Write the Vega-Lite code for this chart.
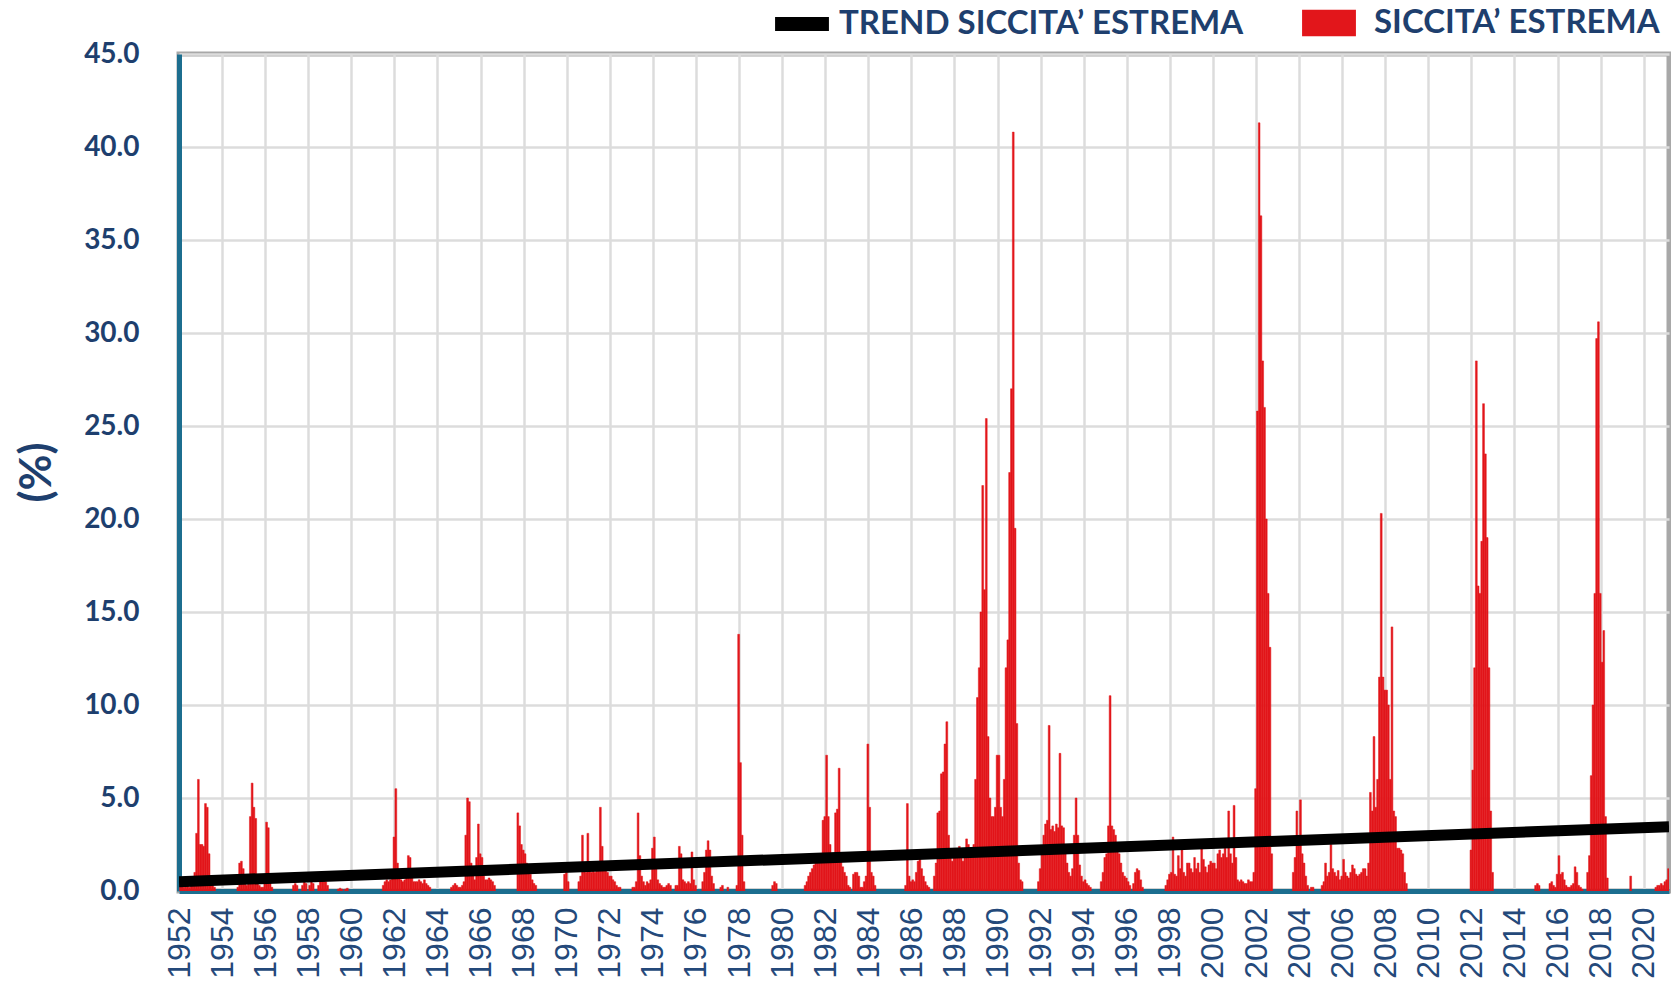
{
"$schema": "https://vega.github.io/schema/vega-lite/v6.json",
"width": 1490, "height": 837,
"autosize": {"type": "none"},
"padding": {"left": 179, "top": 54, "right": 2, "bottom": 90},
"background": "white",
"config": {"view": {"stroke": "#A8A8A8", "strokeWidth": 5}},
"resolve": {"scale": {"color": "independent"}, "legend": {"color": "independent"}},
"datasets": {
"trend": [{"d":"1952-01-01","v":0.5},{"d":"2021-03-05","v":3.46}],
"drought": [
{"d":"1952-01","v":0.3},{"d":"1952-02","v":0.3},{"d":"1952-03","v":0.2},{"d":"1952-04","v":0.3},{"d":"1952-05","v":0.3},{"d":"1952-06","v":0.2},{"d":"1952-07","v":0.3},{"d":"1952-08","v":0.6},{"d":"1952-09","v":1.0},{"d":"1952-10","v":3.1},{"d":"1952-11","v":6.0},{"d":"1952-12","v":2.5},
{"d":"1953-01","v":2.5},{"d":"1953-02","v":2.4},{"d":"1953-03","v":4.7},{"d":"1953-04","v":4.5},{"d":"1953-05","v":2.0},{"d":"1953-06","v":0.5},{"d":"1953-07","v":0.3},{"d":"1953-08","v":0.2},
{"d":"1954-09","v":0.2},{"d":"1954-10","v":1.5},{"d":"1954-11","v":1.6},{"d":"1954-12","v":1.2},
{"d":"1955-01","v":0.6},{"d":"1955-02","v":0.3},{"d":"1955-03","v":0.4},{"d":"1955-04","v":4.0},{"d":"1955-05","v":5.8},{"d":"1955-06","v":4.5},{"d":"1955-07","v":3.9},{"d":"1955-08","v":0.8},{"d":"1955-09","v":0.3},{"d":"1955-10","v":0.2},{"d":"1955-11","v":0.2},{"d":"1955-12","v":0.6},
{"d":"1956-01","v":3.7},{"d":"1956-02","v":3.4},{"d":"1956-03","v":0.5},{"d":"1956-04","v":0.2},
{"d":"1957-04","v":0.3},{"d":"1957-05","v":0.4},{"d":"1957-06","v":0.3},{"d":"1957-09","v":0.3},{"d":"1957-10","v":0.5},{"d":"1957-11","v":0.4},
{"d":"1958-01","v":0.3},{"d":"1958-02","v":0.5},{"d":"1958-03","v":0.4},{"d":"1958-06","v":0.3},{"d":"1958-07","v":0.5},{"d":"1958-08","v":0.6},{"d":"1958-09","v":0.7},{"d":"1958-10","v":0.5},{"d":"1958-11","v":0.3},
{"d":"1959-05","v":0.1},{"d":"1959-06","v":0.15},{"d":"1959-07","v":0.1},{"d":"1959-09","v":0.1},{"d":"1959-10","v":0.15},
{"d":"1961-06","v":0.3},{"d":"1961-07","v":0.5},{"d":"1961-08","v":0.6},{"d":"1961-09","v":0.5},{"d":"1961-10","v":0.6},{"d":"1961-11","v":0.8},{"d":"1961-12","v":2.9},
{"d":"1962-01","v":5.5},{"d":"1962-02","v":1.5},{"d":"1962-03","v":0.8},{"d":"1962-04","v":0.6},{"d":"1962-05","v":0.5},{"d":"1962-06","v":0.6},{"d":"1962-07","v":1.2},{"d":"1962-08","v":1.9},{"d":"1962-09","v":1.8},{"d":"1962-10","v":0.8},{"d":"1962-11","v":0.5},{"d":"1962-12","v":0.5},
{"d":"1963-01","v":0.5},{"d":"1963-02","v":0.6},{"d":"1963-03","v":0.5},{"d":"1963-04","v":0.4},{"d":"1963-05","v":0.6},{"d":"1963-06","v":0.4},{"d":"1963-07","v":0.3},{"d":"1963-08","v":0.2},
{"d":"1964-08","v":0.2},{"d":"1964-09","v":0.3},{"d":"1964-10","v":0.4},{"d":"1964-11","v":0.3},{"d":"1964-12","v":0.2},
{"d":"1965-01","v":0.2},{"d":"1965-02","v":0.3},{"d":"1965-03","v":0.5},{"d":"1965-04","v":3.0},{"d":"1965-05","v":5.0},{"d":"1965-06","v":4.8},{"d":"1965-07","v":1.5},{"d":"1965-08","v":0.8},{"d":"1965-09","v":0.6},{"d":"1965-10","v":1.8},{"d":"1965-11","v":3.6},{"d":"1965-12","v":2.0},
{"d":"1966-01","v":1.8},{"d":"1966-02","v":0.8},{"d":"1966-03","v":0.6},{"d":"1966-04","v":0.6},{"d":"1966-05","v":0.7},{"d":"1966-06","v":0.6},{"d":"1966-07","v":0.5},{"d":"1966-08","v":0.3},
{"d":"1967-09","v":4.2},{"d":"1967-10","v":3.5},{"d":"1967-11","v":2.5},{"d":"1967-12","v":2.2},
{"d":"1968-01","v":2.0},{"d":"1968-02","v":1.5},{"d":"1968-03","v":1.2},{"d":"1968-04","v":0.9},{"d":"1968-05","v":0.6},{"d":"1968-06","v":0.4},{"d":"1968-07","v":0.3},
{"d":"1969-11","v":0.9},{"d":"1969-12","v":1.0},
{"d":"1970-01","v":0.5},{"d":"1970-07","v":0.5},{"d":"1970-08","v":0.8},{"d":"1970-09","v":3.0},{"d":"1970-10","v":1.2},{"d":"1970-11","v":1.0},{"d":"1970-12","v":3.1},
{"d":"1971-01","v":1.2},{"d":"1971-02","v":1.0},{"d":"1971-03","v":1.1},{"d":"1971-04","v":1.0},{"d":"1971-05","v":1.3},{"d":"1971-06","v":1.5},{"d":"1971-07","v":4.5},{"d":"1971-08","v":2.4},{"d":"1971-09","v":1.5},{"d":"1971-10","v":1.2},{"d":"1971-11","v":1.0},{"d":"1971-12","v":0.8},
{"d":"1972-01","v":0.8},{"d":"1972-02","v":0.6},{"d":"1972-03","v":0.5},{"d":"1972-04","v":0.3},{"d":"1972-05","v":0.2},{"d":"1972-06","v":0.2},
{"d":"1973-01","v":0.2},{"d":"1973-02","v":0.2},{"d":"1973-03","v":0.5},{"d":"1973-04","v":4.2},{"d":"1973-05","v":1.9},{"d":"1973-06","v":0.8},{"d":"1973-07","v":0.5},{"d":"1973-08","v":0.3},{"d":"1973-09","v":0.5},{"d":"1973-10","v":0.4},{"d":"1973-11","v":0.6},{"d":"1973-12","v":2.3},
{"d":"1974-01","v":2.9},{"d":"1974-02","v":1.5},{"d":"1974-03","v":0.6},{"d":"1974-04","v":0.4},{"d":"1974-05","v":0.3},{"d":"1974-06","v":0.2},{"d":"1974-07","v":0.2},{"d":"1974-08","v":0.3},{"d":"1974-09","v":0.4},{"d":"1974-10","v":0.3},
{"d":"1975-01","v":0.3},{"d":"1975-02","v":0.3},{"d":"1975-03","v":2.4},{"d":"1975-04","v":2.0},{"d":"1975-05","v":0.6},{"d":"1975-06","v":0.5},{"d":"1975-07","v":0.4},{"d":"1975-08","v":0.5},{"d":"1975-09","v":0.4},{"d":"1975-10","v":2.1},{"d":"1975-11","v":0.6},{"d":"1975-12","v":0.3},
{"d":"1976-04","v":0.5},{"d":"1976-05","v":1.0},{"d":"1976-06","v":2.2},{"d":"1976-07","v":2.7},{"d":"1976-08","v":2.2},{"d":"1976-09","v":0.8},{"d":"1976-10","v":0.4},
{"d":"1977-02","v":0.2},{"d":"1977-03","v":0.3},{"d":"1977-06","v":0.2},{"d":"1977-11","v":0.3},{"d":"1977-12","v":13.8},
{"d":"1978-01","v":6.9},{"d":"1978-02","v":3.0},{"d":"1978-03","v":0.5},
{"d":"1979-07","v":0.3},{"d":"1979-08","v":0.5},{"d":"1979-09","v":0.4},
{"d":"1981-01","v":0.3},{"d":"1981-02","v":0.5},{"d":"1981-03","v":0.8},{"d":"1981-04","v":1.0},{"d":"1981-05","v":1.2},{"d":"1981-06","v":1.4},{"d":"1981-07","v":1.5},{"d":"1981-08","v":1.8},{"d":"1981-09","v":1.6},{"d":"1981-10","v":2.0},{"d":"1981-11","v":3.8},{"d":"1981-12","v":4.0},
{"d":"1982-01","v":7.3},{"d":"1982-02","v":4.0},{"d":"1982-03","v":2.5},{"d":"1982-04","v":2.0},{"d":"1982-05","v":1.8},{"d":"1982-06","v":4.2},{"d":"1982-07","v":4.4},{"d":"1982-08","v":6.6},{"d":"1982-09","v":2.0},{"d":"1982-10","v":1.3},{"d":"1982-11","v":1.0},{"d":"1982-12","v":0.8},
{"d":"1983-01","v":0.3},{"d":"1983-02","v":0.2},{"d":"1983-04","v":0.9},{"d":"1983-05","v":1.0},{"d":"1983-06","v":1.0},{"d":"1983-07","v":0.8},{"d":"1983-08","v":0.2},{"d":"1983-09","v":0.2},{"d":"1983-10","v":0.5},{"d":"1983-11","v":0.8},{"d":"1983-12","v":7.9},
{"d":"1984-01","v":4.5},{"d":"1984-02","v":1.0},{"d":"1984-03","v":0.8},{"d":"1984-04","v":0.3},
{"d":"1985-09","v":0.3},{"d":"1985-10","v":4.7},{"d":"1985-11","v":0.8},{"d":"1985-12","v":0.5},
{"d":"1986-01","v":0.6},{"d":"1986-02","v":0.5},{"d":"1986-03","v":1.0},{"d":"1986-04","v":1.6},{"d":"1986-05","v":1.8},{"d":"1986-06","v":1.2},{"d":"1986-07","v":0.8},{"d":"1986-08","v":0.5},{"d":"1986-09","v":0.3},{"d":"1986-10","v":0.2},
{"d":"1987-01","v":0.8},{"d":"1987-02","v":1.5},{"d":"1987-03","v":4.2},{"d":"1987-04","v":4.3},{"d":"1987-05","v":6.3},{"d":"1987-06","v":6.4},{"d":"1987-07","v":7.9},{"d":"1987-08","v":9.1},{"d":"1987-09","v":3.0},{"d":"1987-10","v":2.0},{"d":"1987-11","v":1.6},{"d":"1987-12","v":1.8},
{"d":"1988-01","v":1.8},{"d":"1988-02","v":2.0},{"d":"1988-03","v":2.4},{"d":"1988-04","v":2.0},{"d":"1988-05","v":1.6},{"d":"1988-06","v":2.2},{"d":"1988-07","v":2.8},{"d":"1988-08","v":2.5},{"d":"1988-09","v":2.0},{"d":"1988-10","v":1.8},{"d":"1988-11","v":2.5},{"d":"1988-12","v":6.0},
{"d":"1989-01","v":10.4},{"d":"1989-02","v":12.0},{"d":"1989-03","v":15.0},{"d":"1989-04","v":21.8},{"d":"1989-05","v":16.2},{"d":"1989-06","v":25.4},{"d":"1989-07","v":8.3},{"d":"1989-08","v":5.0},{"d":"1989-09","v":4.0},{"d":"1989-10","v":4.0},{"d":"1989-11","v":4.5},{"d":"1989-12","v":7.3},
{"d":"1990-01","v":7.3},{"d":"1990-02","v":4.5},{"d":"1990-03","v":4.0},{"d":"1990-04","v":6.0},{"d":"1990-05","v":12.0},{"d":"1990-06","v":13.5},{"d":"1990-07","v":22.5},{"d":"1990-08","v":27.0},{"d":"1990-09","v":40.8},{"d":"1990-10","v":19.5},{"d":"1990-11","v":9.0},{"d":"1990-12","v":1.5},
{"d":"1991-01","v":0.6},{"d":"1991-02","v":0.5},{"d":"1991-11","v":0.5},{"d":"1991-12","v":1.2},
{"d":"1992-01","v":2.0},{"d":"1992-02","v":3.0},{"d":"1992-03","v":3.6},{"d":"1992-04","v":3.8},{"d":"1992-05","v":8.9},{"d":"1992-06","v":3.3},{"d":"1992-07","v":3.5},{"d":"1992-08","v":3.2},{"d":"1992-09","v":3.6},{"d":"1992-10","v":3.4},{"d":"1992-11","v":7.4},{"d":"1992-12","v":3.5},
{"d":"1993-01","v":3.4},{"d":"1993-02","v":2.5},{"d":"1993-03","v":1.5},{"d":"1993-04","v":1.0},{"d":"1993-05","v":0.8},{"d":"1993-06","v":1.2},{"d":"1993-07","v":3.0},{"d":"1993-08","v":5.0},{"d":"1993-09","v":3.0},{"d":"1993-10","v":1.4},{"d":"1993-11","v":0.8},{"d":"1993-12","v":0.5},
{"d":"1994-01","v":0.6},{"d":"1994-02","v":0.4},{"d":"1994-03","v":0.3},{"d":"1994-04","v":0.2},{"d":"1994-10","v":0.5},{"d":"1994-11","v":1.0},{"d":"1994-12","v":1.8},
{"d":"1995-01","v":2.0},{"d":"1995-02","v":3.5},{"d":"1995-03","v":10.5},{"d":"1995-04","v":3.5},{"d":"1995-05","v":3.3},{"d":"1995-06","v":3.0},{"d":"1995-07","v":2.5},{"d":"1995-08","v":2.0},{"d":"1995-09","v":1.5},{"d":"1995-10","v":1.0},{"d":"1995-11","v":0.8},{"d":"1995-12","v":0.7},
{"d":"1996-01","v":0.5},{"d":"1996-02","v":0.3},{"d":"1996-04","v":0.4},{"d":"1996-05","v":1.0},{"d":"1996-06","v":1.2},{"d":"1996-07","v":1.1},{"d":"1996-08","v":0.6},{"d":"1996-09","v":0.2},
{"d":"1997-10","v":0.3},{"d":"1997-11","v":0.6},{"d":"1997-12","v":0.9},
{"d":"1998-01","v":1.0},{"d":"1998-02","v":2.9},{"d":"1998-03","v":0.9},{"d":"1998-04","v":0.8},{"d":"1998-05","v":1.9},{"d":"1998-06","v":1.2},{"d":"1998-07","v":2.2},{"d":"1998-08","v":1.0},{"d":"1998-09","v":0.8},{"d":"1998-10","v":1.5},{"d":"1998-11","v":1.5},{"d":"1998-12","v":1.2},
{"d":"1999-01","v":1.0},{"d":"1999-02","v":1.8},{"d":"1999-03","v":1.2},{"d":"1999-04","v":1.5},{"d":"1999-05","v":1.0},{"d":"1999-06","v":2.4},{"d":"1999-07","v":1.7},{"d":"1999-08","v":1.3},{"d":"1999-09","v":1.0},{"d":"1999-10","v":1.4},{"d":"1999-11","v":1.6},{"d":"1999-12","v":1.5},
{"d":"2000-01","v":1.5},{"d":"2000-02","v":1.2},{"d":"2000-03","v":2.0},{"d":"2000-04","v":2.2},{"d":"2000-05","v":1.8},{"d":"2000-06","v":2.0},{"d":"2000-07","v":2.3},{"d":"2000-08","v":1.8},{"d":"2000-09","v":4.3},{"d":"2000-10","v":2.0},{"d":"2000-11","v":1.5},{"d":"2000-12","v":4.6},
{"d":"2001-01","v":1.8},{"d":"2001-02","v":0.6},{"d":"2001-03","v":0.5},{"d":"2001-04","v":0.6},{"d":"2001-05","v":0.5},{"d":"2001-06","v":0.4},{"d":"2001-07","v":0.4},{"d":"2001-08","v":0.6},{"d":"2001-09","v":0.5},{"d":"2001-10","v":0.5},{"d":"2001-11","v":1.0},{"d":"2001-12","v":5.5},
{"d":"2002-01","v":25.8},{"d":"2002-02","v":41.3},{"d":"2002-03","v":36.3},{"d":"2002-04","v":28.5},{"d":"2002-05","v":26.0},{"d":"2002-06","v":20.0},{"d":"2002-07","v":16.0},{"d":"2002-08","v":13.1},{"d":"2002-09","v":2.0},
{"d":"2003-09","v":1.0},{"d":"2003-10","v":1.8},{"d":"2003-11","v":4.3},{"d":"2003-12","v":2.5},
{"d":"2004-01","v":4.9},{"d":"2004-02","v":2.0},{"d":"2004-03","v":1.5},{"d":"2004-04","v":0.8},{"d":"2004-05","v":0.3},{"d":"2004-07","v":0.2},{"d":"2004-08","v":0.2},
{"d":"2005-01","v":0.3},{"d":"2005-02","v":0.5},{"d":"2005-03","v":1.5},{"d":"2005-04","v":0.8},{"d":"2005-05","v":1.0},{"d":"2005-06","v":2.5},{"d":"2005-07","v":1.2},{"d":"2005-08","v":1.0},{"d":"2005-09","v":0.8},{"d":"2005-10","v":1.1},{"d":"2005-11","v":0.6},{"d":"2005-12","v":0.8},
{"d":"2006-01","v":1.7},{"d":"2006-02","v":1.0},{"d":"2006-03","v":0.8},{"d":"2006-04","v":0.7},{"d":"2006-05","v":1.0},{"d":"2006-06","v":1.4},{"d":"2006-07","v":1.2},{"d":"2006-08","v":0.9},{"d":"2006-09","v":0.8},{"d":"2006-10","v":0.9},{"d":"2006-11","v":1.0},{"d":"2006-12","v":1.2},
{"d":"2007-01","v":1.2},{"d":"2007-02","v":0.8},{"d":"2007-03","v":1.5},{"d":"2007-04","v":5.3},{"d":"2007-05","v":4.3},{"d":"2007-06","v":8.3},{"d":"2007-07","v":4.5},{"d":"2007-08","v":6.0},{"d":"2007-09","v":11.5},{"d":"2007-10","v":20.3},{"d":"2007-11","v":11.5},{"d":"2007-12","v":10.8},
{"d":"2008-01","v":10.8},{"d":"2008-02","v":10.0},{"d":"2008-03","v":6.0},{"d":"2008-04","v":14.2},{"d":"2008-05","v":4.3},{"d":"2008-06","v":4.0},{"d":"2008-07","v":2.3},{"d":"2008-08","v":2.3},{"d":"2008-09","v":2.2},{"d":"2008-10","v":2.0},{"d":"2008-11","v":1.0},{"d":"2008-12","v":0.4},
{"d":"2011-12","v":2.2},
{"d":"2012-01","v":6.5},{"d":"2012-02","v":12.0},{"d":"2012-03","v":28.5},{"d":"2012-04","v":16.4},{"d":"2012-05","v":16.0},{"d":"2012-06","v":18.8},{"d":"2012-07","v":26.2},{"d":"2012-08","v":23.5},{"d":"2012-09","v":19.0},{"d":"2012-10","v":12.0},{"d":"2012-11","v":4.3},{"d":"2012-12","v":1.0},
{"d":"2014-12","v":0.3},
{"d":"2015-01","v":0.4},{"d":"2015-02","v":0.3},{"d":"2015-08","v":0.4},{"d":"2015-09","v":0.5},{"d":"2015-10","v":0.3},{"d":"2015-11","v":0.2},{"d":"2015-12","v":0.9},
{"d":"2016-01","v":1.9},{"d":"2016-02","v":0.9},{"d":"2016-03","v":1.0},{"d":"2016-04","v":0.6},{"d":"2016-05","v":0.3},{"d":"2016-06","v":0.2},{"d":"2016-07","v":0.2},{"d":"2016-08","v":0.3},{"d":"2016-09","v":0.4},{"d":"2016-10","v":1.3},{"d":"2016-11","v":1.0},{"d":"2016-12","v":0.3},
{"d":"2017-01","v":0.2},{"d":"2017-02","v":0.1},{"d":"2017-05","v":1.0},{"d":"2017-06","v":1.9},{"d":"2017-07","v":6.2},{"d":"2017-08","v":10.0},{"d":"2017-09","v":16.0},{"d":"2017-10","v":29.7},{"d":"2017-11","v":30.6},{"d":"2017-12","v":16.0},
{"d":"2018-01","v":12.3},{"d":"2018-02","v":14.0},{"d":"2018-03","v":4.0},{"d":"2018-04","v":0.7},
{"d":"2019-05","v":0.8},
{"d":"2020-07","v":0.2},{"d":"2020-08","v":0.3},{"d":"2020-09","v":0.3},{"d":"2020-10","v":0.4},{"d":"2020-11","v":0.3},{"d":"2020-12","v":0.5},
{"d":"2021-01","v":0.6},{"d":"2021-02","v":1.2}
]
},
"layer": [
{
"data": {"name": "drought"},
"mark": {"type": "bar", "clip": true, "binSpacing": 0, "stroke": "#E2161B", "strokeWidth": 0.5},
"encoding": {
"x": {"field": "d", "timeUnit": "utcyearmonth", "type": "temporal",
"scale": {"domain": [{"year": 1952, "month": 1, "date": 1, "utc": true}, {"year": 2021, "month": 3, "date": 5, "utc": true}], "nice": false},
"axis": {"title": null, "format": "%Y", "tickCount": {"interval": "year", "step": 2}, "labelAngle": -90, "labelFont": "Liberation Sans", "labelFontSize": 32, "labelColor": "#24497A", "labelPadding": 16, "labelFlush": false, "labelOverlap": false, "labelBound": false, "ticks": false, "tickSize": 0, "domainColor": "#1C6E8F", "domainWidth": 5, "gridColor": "#DCDCDC", "gridWidth": 2.5}},
"y": {"field": "v", "type": "quantitative",
"scale": {"domain": [0, 45], "nice": false},
"axis": {"values": [0, 5, 10, 15, 20, 25, 30, 35, 40, 45], "format": ".1f", "labelFont": "Lato", "labelFontWeight": "bold", "labelFontSize": 28, "labelColor": "#1E3F6E", "labelPadding": 40, "ticks": false, "tickSize": 0, "domainColor": "#1C6E8F", "domainWidth": 5, "gridColor": "#DCDCDC", "gridWidth": 2.5,
"title": "(%)", "titleFont": "Lato", "titleFontSize": 44, "titleFontWeight": "bold", "titleColor": "#1E3F6E", "titleX": -142, "titleY": 418, "titleAngle": 270, "titleAlign": "center", "titleBaseline": "middle"}},
"color": {"datum": "SICCITA’ ESTREMA", "type": "nominal",
"scale": {"domain": ["SICCITA’ ESTREMA"], "range": ["#E2161B"]},
"legend": {"orient": "none", "legendX": 1123, "legendY": -58, "title": null, "symbolSize": 2900, "symbolType": "M-1,-0.49H1V0.49H-1Z", "labelFont": "Lato", "labelFontSize": 33, "labelFontWeight": "bold", "labelColor": "#1E3F6E", "labelOffset": 18, "labelLimit": 800, "symbolStrokeWidth": 0, "symbolOpacity": 1,
"encode": {"symbols": {"update": {"fill": {"value": "#E2161B"}, "stroke": {"value": "transparent"}, "opacity": {"value": 1}}}}}}
}
},
{
"data": {"name": "trend"},
"mark": {"type": "line", "strokeWidth": 11, "strokeCap": "butt", "clip": true},
"encoding": {
"x": {"field": "d", "timeUnit": "utcyearmonthdate", "type": "temporal"},
"y": {"field": "v", "type": "quantitative"},
"color": {"datum": "TREND SICCITA’ ESTREMA", "type": "nominal",
"scale": {"domain": ["TREND SICCITA’ ESTREMA"], "range": ["#000000"]},
"legend": {"orient": "none", "legendX": 596, "legendY": -57, "title": null, "symbolSize": 2900, "symbolType": "M-1,-0.26H1V0.26H-1Z", "labelFont": "Lato", "labelFontSize": 33, "labelFontWeight": "bold", "labelColor": "#1E3F6E", "labelOffset": 10, "labelLimit": 800, "symbolStrokeWidth": 0, "symbolOpacity": 1,
"encode": {"symbols": {"update": {"fill": {"value": "#000000"}, "stroke": {"value": "transparent"}, "opacity": {"value": 1}}}}}}
}
}
]
}
